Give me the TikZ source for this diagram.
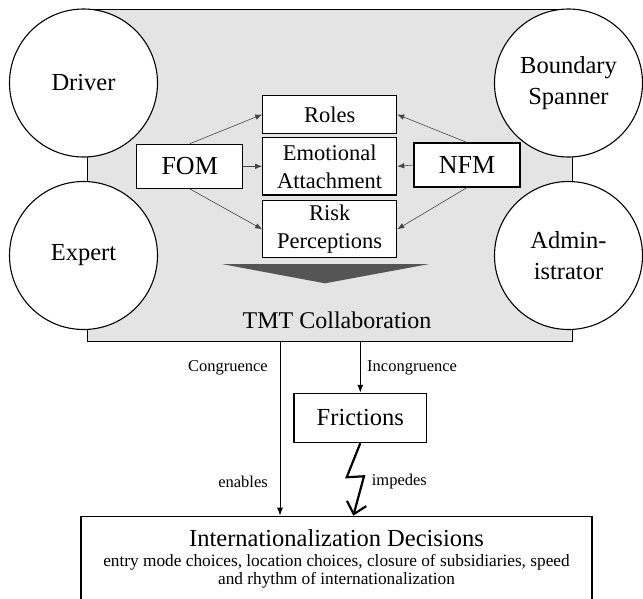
\documentclass[tikz,border=0pt]{standalone}
\usepackage{fontspec}
\setmainfont{Liberation Serif}
\usetikzlibrary{arrows.meta,calc,positioning}
\definecolor{panelgrey}{RGB}{228,228,228}
\definecolor{wedgegrey}{RGB}{85,85,85}
\definecolor{linkgrey}{RGB}{70,70,70}
\tikzset{
  panel/.style={draw=black,line width=1.1pt,fill=panelgrey,inner sep=0pt},
  role/.style={circle,draw=black,line width=1.1pt,fill=white,minimum size=148pt,
               inner sep=0pt,align=center,font=\fontsize{24.5}{31}\selectfont},
  factor/.style={draw=black,line width=1.1pt,fill=white,minimum width=134pt,
                 inner sep=0pt,align=center,font=\fontsize{22.5}{28}\selectfont},
  mode/.style={factor,minimum width=106pt,minimum height=44pt,font=\fontsize{26}{30}\selectfont},
  link/.style={linkgrey,line width=0.6pt,-{Latex[length=7pt,width=5.5pt]}},
  flow/.style={black,line width=1pt,-{Latex[length=8pt,width=6pt]}},
  bolt/.style={black,line width=2.2pt,-{Straight Barb[length=11pt,width=20pt]}},
  lab/.style={inner sep=0pt,font=\fontsize{16.5}{18}\selectfont},
}

\begin{document}
\begin{tikzpicture}[x=1pt,y=-1pt]
  \path[use as bounding box] (0,0) rectangle (643,598);
  \node[panel,minimum width=485pt,minimum height=331.7pt] (tmt) at (329.8,175.2) {};

  \node[role] (driver) at (83.5,83) {Driver};
  \node[role] (expert) at (83.5,255.5) {Expert};
  \node[role] (spanner) at (568.5,83) {Boundary\\Spanner};
  \node[role] (admin) at (568.5,255.5) {Admin-\\istrator};

  \node[factor,minimum height=37.6pt] (roles) at (329.7,114.5) {Roles};
  \node[factor,minimum height=57.3pt] (emotion) at (329.7,166.3) {Emotional\\Attachment};
  \node[factor,minimum height=57pt] (risk) at (329.7,229.2) {Risk\\Perceptions};
  \node[mode] (fom) at (189.7,166.3) {FOM};
  \node[mode] (nfm) at (467,165) {NFM};

  \draw[link] (fom.north) -- (roles.west);
  \draw[link] (fom.east) -- (emotion.west);
  \draw[link] (fom.south) -- (risk.west);
  \draw[link] (nfm.north) -- (roles.east);
  \draw[link] (nfm.west) -- (emotion.east);
  \draw[link] (nfm.south) -- (risk.east);

  \fill[wedgegrey] (221.7,264) -- (429.3,264) -- (325,283.3) -- cycle;
  \node[font=\fontsize{24}{28}\selectfont] (tmtlab) at (337,320) {TMT Collaboration};

  \node[factor,minimum width=132.7pt,minimum height=49.4pt,font=\fontsize{24.5}{28}\selectfont]
    (fric) at (360.3,418) {Frictions};
  \node[factor,minimum width=511pt,minimum height=90pt,anchor=north] (dec) at (336.5,515.7) {};
  \node[font=\fontsize{24.5}{28}\selectfont] (dectitle) at (336.5,538) {Internationalization Decisions};
  \node[align=center,font=\fontsize{17.3}{17.6}\selectfont] (decbody) at (336.5,571.5)
    {entry mode choices, location choices, closure of subsidiaries, speed\\and rhythm of internationalization};

  \draw[flow] ([xshift=-49.8pt]tmt.south) -- ([xshift=-49.8pt]tmt.south |- dec.north);
  \draw[flow] (fric.north |- tmt.south) -- (fric.north);
  \draw[bolt] (fric.south) -- ++(-13.6,34) -- ++(17.3,-1) -- ([xshift=16.8pt]dec.north);

  \node[lab,anchor=east] (conglab) at (268,368) {Congruence};
  \node[lab,anchor=west] (inconglab) at (367,368) {Incongruence};
  \node[lab,anchor=east] (enablab) at (268,481.7) {enables};
  \node[lab,anchor=west] (impedlab) at (371.7,481.7) {impedes};
\end{tikzpicture}
\end{document}
